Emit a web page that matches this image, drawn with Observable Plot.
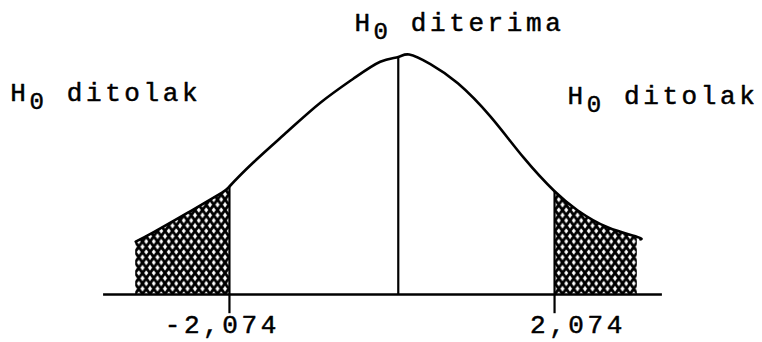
<!DOCTYPE html>
<html><head><meta charset="utf-8">
<script src="https://cdn.jsdelivr.net/npm/d3@7"></script>
<script src="https://cdn.jsdelivr.net/npm/@observablehq/plot@0.6"></script>
<style>body{margin:0;background:#fff}</style>
</head><body><div id="chart"></div>
<script>
// Curve (x in t units, y relative to the peak height)
const curveX = [-3.27, -3.04, -2.61, -2.19, -2.074, -1.77, -1.33, -0.91, -0.49, -0.15, 0.08, 0.22, 0.49, 0.84, 1.26, 1.68, 2.074, 2.37, 2.75, 3.13, 3.17];
const curveY = [0.22, 0.26, 0.34, 0.42, 0.45, 0.55, 0.68, 0.80, 0.90, 0.97, 0.99, 1.00, 0.96, 0.88, 0.74, 0.57, 0.43, 0.35, 0.28, 0.24, 0.23];
const critical = [-2.074, 2.074];
const criticalY = [0.45, 0.43];
const tickLabels = ["-2,074", "2,074"];
const tickLabelX = [-2.90, 1.76];
const tickLabelY = [-0.162, -0.162];
const tickBottom = -0.08;
const regionLabels = ["H0 ditolak", "H0 diterima", "H0 ditolak"];
const regionLabelX = [-4.87, -0.48, 2.24];
const regionLabelY = [0.808, 1.10, 0.795];
const centerX = [0.08];
const centerTop = [0.99];
const axisExtent = [-3.68, 3.45];
const hatchEnd = 3.13;

const curve = curveX.map((x, i) => ({x, y: curveY[i]}));
const leftTail = curve.filter(d => d.x <= critical[0]);
const rightTail = curve.filter(d => d.x >= critical[1] && d.x <= hatchEnd);
const crit = critical.map((x, i) => ({x, y: criticalY[i]}));
const ticks = tickLabels.map((t, i) => ({t, x: tickLabelX[i], y: tickLabelY[i]}));
const regions = regionLabels.map((t, i) => ({t, x: regionLabelX[i], y: regionLabelY[i]}));
const center = centerX.map((x, i) => ({x, y: centerTop[i]}));

const svg = Plot.plot({
  width: 762, height: 342,
  marginLeft: 78, marginRight: 57, marginTop: 54, marginBottom: 48,
  x: {domain: [-4, 4], axis: null},
  y: {domain: [0, 1], axis: null},
  style: {fontFamily: "'Liberation Mono', monospace", fontSize: "26px", letterSpacing: "3.6px", background: "#fff", color: "#000"},
  marks: [
    Plot.areaY(leftTail, {x: "x", y: "y", fill: "url(#hatch)", curve: "natural"}),
    Plot.areaY(rightTail, {x: "x", y: "y", fill: "url(#hatch)", curve: "natural"}),
    Plot.line(curve, {x: "x", y: "y", stroke: "#000", strokeWidth: 2.6, curve: "natural"}),
    Plot.ruleY([0], {x1: axisExtent[0], x2: axisExtent[1], stroke: "#000", strokeWidth: 2.6}),
    Plot.ruleX(crit, {x: "x", y1: tickBottom, y2: "y", stroke: "#000", strokeWidth: 2.2}),
    Plot.ruleX(center, {x: "x", y1: 0, y2: "y", stroke: "#000", strokeWidth: 2.2}),
    Plot.text(ticks, {x: "x", y: "y", text: "t", textAnchor: "start", lineAnchor: "bottom", fill: "#000", stroke: "#000", strokeWidth: 0.5}),
    Plot.text(regions, {x: "x", y: "y", text: "t", textAnchor: "start", lineAnchor: "bottom", fill: "#000", stroke: "#000", strokeWidth: 0.5})
  ]
});

// crosshatch pattern
const defs = d3.select(svg).insert("defs", ":first-child");
const W = 7.5, H = 10.5;
const pat = defs.append("pattern").attr("id", "hatch").attr("patternUnits", "userSpaceOnUse")
  .attr("width", W).attr("height", H);
pat.append("rect").attr("width", W).attr("height", H).attr("fill", "#fff");
let d = "";
for (let k = -1; k <= 1; k++) {
  d += `M${W*k - 1},${-H/W} L${W*k + W + 1},${H + H/W} `;
  d += `M${W*k + W + 1},${-H/W} L${W*k - 1},${H + H/W} `;
}
pat.append("path").attr("d", d).attr("stroke", "#000").attr("stroke-width", 2.9).attr("fill", "none");

// subscript 0 in H0
d3.select(svg).selectAll("text").each(function() {
  const t = this.textContent;
  if (t.startsWith("H0")) {
    const el = d3.select(this);
    el.text("");
    el.append("tspan").text("H");
    el.append("tspan").attr("dy", 8).attr("font-size", "24px").text("0");
    el.append("tspan").attr("dy", -8).text(t.slice(2));
  }
});

document.getElementById("chart").appendChild(svg);
</script>
</body></html>
